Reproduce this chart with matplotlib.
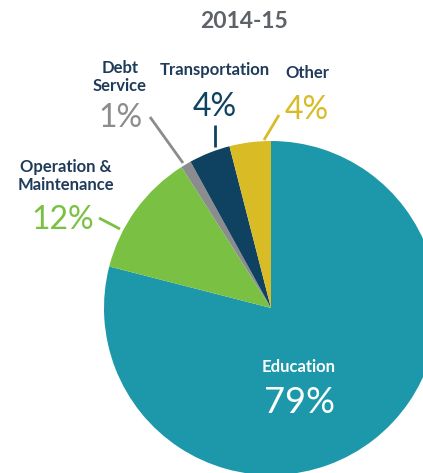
import matplotlib
matplotlib.use("Agg")
import matplotlib.pyplot as plt

title = "2014-15"
categories = ["Education", "Operation &\nMaintenance", "Debt\nService", "Transportation", "Other"]
shares = [79, 12, 1, 4, 4]
colors = ["#1c98aa", "#7ac143", "#8a8c8e", "#0e4260", "#d9bc25"]

W, H = 423, 473
fig = plt.figure(figsize=(W / 100, H / 100), dpi=100)
ax = fig.add_axes([0, 0, 1, 1])
ax.set_xlim(0, W)
ax.set_ylim(0, H)
ax.set_aspect("equal")
ax.axis("off")

cx, cy, r = 271, H - 308, 167
ax.pie(shares, colors=colors, startangle=90, counterclock=False,
       center=(cx, cy), radius=r, wedgeprops=dict(linewidth=0))
ax.set_xlim(0, W)
ax.set_ylim(0, H)

name_font = dict(family=["Lato", "DejaVu Sans"], fontweight="bold", fontsize=12,
                 color="#1f3b5a", ha="center", va="center", linespacing=1.2)
pct_font = dict(family=["Lato", "DejaVu Sans"], fontweight="normal", fontsize=23,
                ha="center", va="center")

ax.text(244, H - 22, title, family=["Lato", "DejaVu Sans"], fontweight="bold",
        fontsize=16.5, color="#5d6369", ha="center", va="center")

# label positions (pixels from top)
spots = {
    "Education": ((299, 367), (299, 402)),
    "Operation &\nMaintenance": ((66, 176), (63, 220)),
    "Debt\nService": ((120, 77), (120, 118)),
    "Transportation": ((215, 70), (215, 107)),
    "Other": ((307, 73), (307, 110)),
}
for name, val, col in zip(categories, shares, colors):
    (nx, ny), (px, py) = spots[name]
    if name == "Education":
        ax.text(nx, H - ny, name, **{**name_font, "color": "white"})
        ax.text(px, H - py, f"{val}%", **{**pct_font, "fontsize": 26}, color="white")
    else:
        ax.text(nx, H - ny, name, **name_font)
        ax.text(px, H - py, f"{val}%", **pct_font, color=col)

# leader lines
leaders = [
    ((99, 218), (120, 229), colors[1]),
    ((150, 117), (183, 163), colors[2]),
    ((215, 125), (215, 147), colors[3]),
    ((279, 115), (264, 140), colors[4]),
]
for (x0, y0), (x1, y1), col in leaders:
    ax.plot([x0, x1], [H - y0, H - y1], color=col, lw=2, solid_capstyle="butt")

fig.savefig("out.png", dpi=100)
